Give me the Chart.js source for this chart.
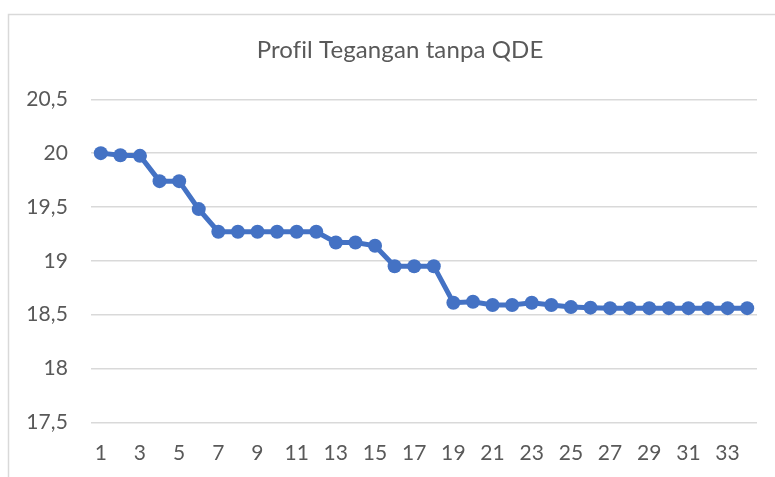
<!DOCTYPE html>
<html>
<head>
<meta charset="utf-8">
<script src="https://cdn.jsdelivr.net/npm/chart.js@4/dist/chart.umd.min.js"></script>
<style>
  html, body { margin: 0; padding: 0; background: #fff; }
  #wrap { width: 775px; height: 477px; position: relative; }
</style>
</head>
<body>
<div id="wrap"><canvas id="c" width="775" height="477"></canvas></div>
<script>
const categories = ['1','2','3','4','5','6','7','8','9','10','11','12','13','14','15','16','17','18','19','20','21','22','23','24','25','26','27','28','29','30','31','32','33','34'];
const tegangan = [20.00, 19.98, 19.975, 19.74, 19.74, 19.48, 19.27, 19.27, 19.27, 19.27, 19.27, 19.27, 19.17, 19.17, 19.14, 18.95, 18.95, 18.95, 18.61, 18.62, 18.59, 18.59, 18.61, 18.59, 18.57, 18.565, 18.56, 18.56, 18.56, 18.56, 18.56, 18.56, 18.56, 18.56];
const yTickLabels = ['17,5', '18', '18,5', '19', '19,5', '20', '20,5'];
const chartTitle = 'Profil Tegangan tanpa QDE';

const FONT = 'Lato, "Open Sans", sans-serif';
const TXT = '#595959';
const GRID = '#d9d9d9';

const borderPlugin = {
  id: 'outerBorder',
  afterLayout(chart) {
    if (chart.titleBlock) {
      chart.titleBlock.left = 43;
    }
  },
  beforeDraw(chart) {
    const ctx = chart.ctx;
    if ('letterSpacing' in ctx) ctx.letterSpacing = '0.1px';
    ctx.save();
    ctx.fillStyle = '#ffffff';
    ctx.fillRect(0, 0, chart.width, chart.height);
    ctx.strokeStyle = GRID;
    ctx.lineWidth = 1.5;
    ctx.strokeRect(8.5, 14.5, chart.width + 20, chart.height + 20);
    ctx.restore();
  }
};

new Chart(document.getElementById('c'), {
  type: 'line',
  data: {
    labels: categories,
    datasets: [{
      data: tegangan,
      borderColor: '#4472C4',
      backgroundColor: '#4472C4',
      borderWidth: 5,
      pointRadius: 7,
      pointHoverRadius: 7,
      pointBorderWidth: 0,
      tension: 0,
      fill: false
    }]
  },
  plugins: [borderPlugin],
  options: {
    responsive: false,
    animation: false,
    devicePixelRatio: 1,
    layout: { padding: { left: 0, right: 18, top: 0, bottom: 0 } },
    plugins: {
      legend: { display: false },
      tooltip: { enabled: false },
      title: {
        display: true,
        text: chartTitle,
        color: TXT,
        font: { family: FONT, size: 24, weight: 'normal', lineHeight: 1.2 },
        padding: { top: 36, bottom: 34.5 }
      }
    },
    scales: {
      x: {
        type: 'category',
        offset: true,
        grid: { display: false, drawTicks: false },
        border: { display: false },
        ticks: {
          autoSkip: false,
          maxRotation: 0,
          minRotation: 0,
          padding: 18.8,
          color: TXT,
          font: { family: FONT, size: 21 },
          callback: function(value, index) {
            return index % 2 === 0 ? categories[index] : '';
          }
        },
        afterFit(scale) { scale.height = 54.7; }
      },
      y: {
        min: 17.5,
        max: 20.5,
        grid: { color: GRID, lineWidth: 1.5, drawTicks: false },
        border: { display: false },
        ticks: {
          stepSize: 0.5,
          padding: 23,
          color: TXT,
          font: { family: FONT, size: 21 },
          callback: function(value, index) { return yTickLabels[index]; }
        },
        afterFit(scale) { scale.width = 91; }
      }
    }
  }
});
</script>
</body>
</html>
